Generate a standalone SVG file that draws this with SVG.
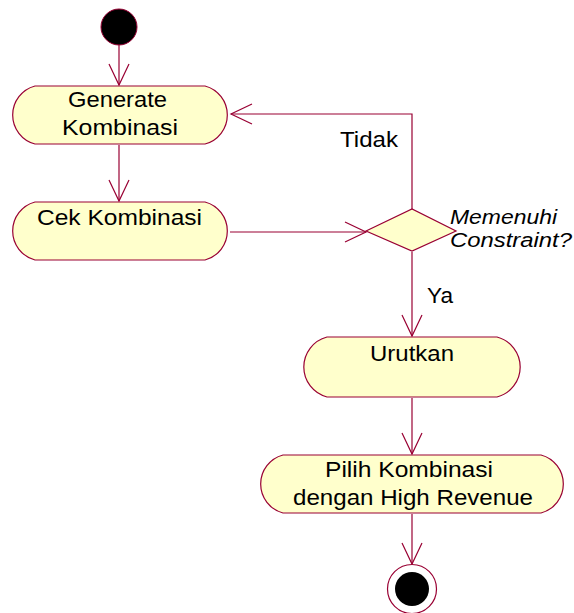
<svg xmlns="http://www.w3.org/2000/svg" width="574" height="613" viewBox="0 0 574 613">
  <defs>
    <style>
      .act { fill: #FFFFCC; stroke: #990033; stroke-width: 1.2; }
      .flow { fill: none; stroke: #990033; stroke-width: 1.2; }
      .lbl { font-family: "Liberation Sans", Arial, sans-serif; font-size: 22px; fill: #000; }
      .it { font-style: italic; font-size: 19.5px; }
    </style>
    <marker id="open" markerUnits="userSpaceOnUse" markerWidth="30" markerHeight="30" viewBox="-25 -15 30 30" refX="0" refY="0" orient="auto">
      <path d="M-21,-10 L0,0 L-21,10" fill="none" stroke="#990033" stroke-width="1.2"/>
    </marker>
  </defs>
  <rect width="574" height="613" fill="#FFFFFF"/>

  <!-- connectors -->
  <g id="connectors">
    <line class="flow" x1="119" y1="45" x2="119" y2="85" marker-end="url(#open)"/>
    <line class="flow" x1="119" y1="145" x2="119" y2="201" marker-end="url(#open)"/>
    <line class="flow" x1="230" y1="232" x2="366" y2="232" marker-end="url(#open)"/>
    <polyline class="flow" points="412,210 412,114 231,114" marker-end="url(#open)"/>
    <line class="flow" x1="412" y1="252" x2="412" y2="336" marker-end="url(#open)"/>
    <line class="flow" x1="412" y1="398" x2="412" y2="454" marker-end="url(#open)"/>
    <line class="flow" x1="412" y1="514" x2="412" y2="564" marker-end="url(#open)"/>
    <text class="lbl" x="340" y="147" textLength="58" lengthAdjust="spacingAndGlyphs">Tidak</text>
    <text class="lbl" x="427" y="303" textLength="26" lengthAdjust="spacingAndGlyphs">Ya</text>
  </g>

  <g id="start">
    <circle cx="119" cy="27" r="18" fill="#000" stroke="#990033" stroke-width="1"/>
  </g>

  <g id="generate">
    <path class="act" d="M35,86 H205 A30,30 0 0 1 205,144 H35 A30,30 0 0 1 35,86 Z"/>
    <text class="lbl" x="68" y="107" textLength="99" lengthAdjust="spacingAndGlyphs">Generate</text>
    <text class="lbl" x="62" y="135" textLength="116" lengthAdjust="spacingAndGlyphs">Kombinasi</text>
  </g>

  <g id="cek">
    <path class="act" d="M35,202 H205 A30,30 0 0 1 205,260 H35 A30,30 0 0 1 35,202 Z"/>
    <text class="lbl" x="37" y="225" textLength="165" lengthAdjust="spacingAndGlyphs">Cek Kombinasi</text>
  </g>

  <g id="decision">
    <polygon class="act" points="366,231 412,209 456,231 412,251"/>
    <text class="lbl it" x="450" y="224" textLength="107" lengthAdjust="spacingAndGlyphs">Memenuhi</text>
    <text class="lbl it" x="450" y="247" textLength="122" lengthAdjust="spacingAndGlyphs">Constraint?</text>
  </g>

  <g id="urutkan">
    <path class="act" d="M327,337 H497 A31,31 0 0 1 497,397 H327 A31,31 0 0 1 327,337 Z"/>
    <text class="lbl" x="370" y="361" textLength="84" lengthAdjust="spacingAndGlyphs">Urutkan</text>
  </g>

  <g id="pilih">
    <path class="act" d="M283,455 H541 A30,30 0 0 1 541,513 H283 A30,30 0 0 1 283,455 Z"/>
    <text class="lbl" x="325" y="477" textLength="168" lengthAdjust="spacingAndGlyphs">Pilih Kombinasi</text>
    <text class="lbl" x="293" y="505" textLength="240" lengthAdjust="spacingAndGlyphs">dengan High Revenue</text>
  </g>

  <g id="end">
    <circle cx="412" cy="589" r="24.5" fill="#FFFFFF" stroke="#990033" stroke-width="1.2"/>
    <circle cx="412" cy="589" r="17" fill="#000"/>
  </g>
</svg>
